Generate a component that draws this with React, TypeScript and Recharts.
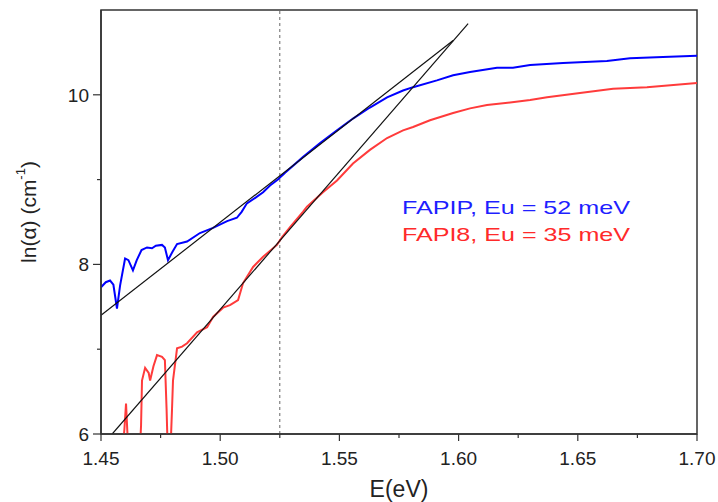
import React from 'react';
import { LineChart, Line, XAxis, YAxis, ReferenceLine, ReferenceArea, Label } from 'recharts';

// FAPIP absorption edge
const blueE = [1.4500, 1.4520, 1.4538, 1.4552, 1.4567, 1.4580, 1.4601, 1.4615, 1.4634, 1.4650, 1.4670, 1.4693, 1.4714, 1.4730, 1.4756, 1.4768, 1.4781, 1.4800, 1.4819, 1.4861, 1.4915, 1.4970, 1.5029, 1.5070, 1.5090, 1.5112, 1.5150, 1.5180, 1.5209, 1.5242, 1.5272, 1.5347, 1.5419, 1.5490, 1.5557, 1.5628, 1.5700, 1.5767, 1.5809, 1.5909, 1.5977, 1.6048, 1.6161, 1.6228, 1.6300, 1.6438, 1.6622, 1.6719, 1.6857, 1.7000];
const blueLn = [7.73, 7.79, 7.81, 7.76, 7.48, 7.75, 8.07, 8.05, 7.93, 8.05, 8.17, 8.20, 8.19, 8.22, 8.23, 8.20, 8.05, 8.15, 8.24, 8.27, 8.37, 8.43, 8.51, 8.55, 8.62, 8.72, 8.79, 8.85, 8.93, 9.00, 9.08, 9.265, 9.43, 9.58, 9.72, 9.85, 9.97, 10.05, 10.09, 10.17, 10.23, 10.27, 10.32, 10.32, 10.35, 10.375, 10.40, 10.43, 10.445, 10.46];

// FAPI8 absorption edge
const redE = [1.4590, 1.4598, 1.4605, 1.4611, 1.4620, 1.4660, 1.4668, 1.4672, 1.4685, 1.4700, 1.4706, 1.4720, 1.4735, 1.4756, 1.4768, 1.4775, 1.4781, 1.4790, 1.4798, 1.4802, 1.4819, 1.4840, 1.4861, 1.4903, 1.4945, 1.4970, 1.5012, 1.5041, 1.5075, 1.5096, 1.5138, 1.5180, 1.5238, 1.5259, 1.5293, 1.5347, 1.5364, 1.5431, 1.5490, 1.5557, 1.5628, 1.5700, 1.5767, 1.5809, 1.5880, 1.5977, 1.6048, 1.6119, 1.6216, 1.6300, 1.6371, 1.6509, 1.6648, 1.6790, 1.7000];
const redLn = [5.8, 6.05, 6.36, 6.0, 5.6, 5.6, 6.1, 6.63, 6.78, 6.72, 6.63, 6.80, 6.93, 6.91, 6.87, 6.3, 5.7, 5.7, 6.3, 6.63, 7.01, 7.03, 7.07, 7.20, 7.26, 7.38, 7.49, 7.52, 7.58, 7.78, 7.97, 8.09, 8.23, 8.32, 8.44, 8.62, 8.68, 8.85, 8.99, 9.19, 9.35, 9.49, 9.58, 9.62, 9.70, 9.785, 9.84, 9.88, 9.91, 9.94, 9.97, 10.02, 10.07, 10.09, 10.14];

// Urbach fits
const fitBlueE = [1.45, 1.5977];
const fitBlueLn = [7.40, 10.64];
const fitRedE = [1.4547, 1.6040];
const fitRedLn = [6.0, 10.84];

const xTicks = [1.45, 1.475, 1.5, 1.525, 1.55, 1.575, 1.6, 1.625, 1.65, 1.675, 1.7];
const xMajor = [1.45, 1.5, 1.55, 1.6, 1.65, 1.7];
const yTicks = [6, 7, 8, 9, 10];
const yMajor = [6, 8, 10];
const gapE = 1.525;

const toPoints = (xs: number[], ys: number[]) => xs.map((x, i) => ({ x, y: ys[i] }));

const blueData = toPoints(blueE, blueLn);
const redData = toPoints(redE, redLn);
const fitBlue = toPoints(fitBlueE, fitBlueLn);
const fitRed = toPoints(fitRedE, fitRedLn);

const FONT = 'Liberation Sans, Arial, sans-serif';
const AXIS = '#333';

const isMajor = (list: number[], v: number) => list.some((m) => Math.abs(m - v) < 1e-6);

const XTick = (props: any) => {
    const { x, y, payload } = props;
    const major = isMajor(xMajor, payload.value);
    return (
        <g>
            <line x1={x} x2={x} y1={y} y2={y + (major ? 7 : 4)} stroke={AXIS} strokeWidth={1.2} />
            {major && (
                <text x={x} y={y + 31} textAnchor="middle" fontSize={19} fill="#222" fontFamily={FONT}>
                    {payload.value.toFixed(2)}
                </text>
            )}
        </g>
    );
};

const YTick = (props: any) => {
    const { x, y, payload } = props;
    const major = isMajor(yMajor, payload.value);
    return (
        <g>
            <line x1={x - (major ? 8 : 4)} x2={x} y1={y} y2={y} stroke={AXIS} strokeWidth={1.2} />
            {major && (
                <text x={x - 12} y={y + 7} textAnchor="end" fontSize={19} fill="#222" fontFamily={FONT}>
                    {payload.value}
                </text>
            )}
        </g>
    );
};

const YTitle = (props: any) => {
    const { viewBox } = props;
    const cx = viewBox.x + 28;
    const cy = viewBox.y + viewBox.height / 2 - 10;
    return (
        <text x={cx} y={cy} transform={`rotate(-90, ${cx}, ${cy})`} textAnchor="middle" dominantBaseline="central"
            fontSize={21} fill="#222" fontFamily={FONT}>
            ln(α) (cm<tspan dy={-8} fontSize={13}>-1</tspan><tspan dy={8}>)</tspan>
        </text>
    );
};

const XTitle = (props: any) => {
    const { viewBox } = props;
    const cx = viewBox.x + viewBox.width / 2;
    return (
        <text x={cx} y={viewBox.y + 63} textAnchor="middle" fontSize={23} fill="#222" fontFamily={FONT}>
            E(eV)
        </text>
    );
};

const App = () => {
    return (
        <div style={{ width: 718, height: 502 }}>
            <style>{'body { margin: 0; }'}</style>
            <LineChart width={718} height={502} margin={{ top: 10, right: 21, left: 0, bottom: 0 }}>
                <XAxis type="number" dataKey="x" domain={[1.45, 1.7]} ticks={xTicks} interval={0}
                    allowDataOverflow tickSize={0} tickMargin={0} tickLine={false} height={68}
                    axisLine={{ stroke: AXIS, strokeWidth: 1.5 }} tick={(p: any) => <XTick {...p} />}>
                    <Label content={(p: any) => <XTitle {...p} />} />
                </XAxis>
                <YAxis type="number" dataKey="y" domain={[6, 11]} ticks={yTicks} interval={0}
                    allowDataOverflow tickSize={0} tickMargin={0} tickLine={false} width={101}
                    axisLine={{ stroke: AXIS, strokeWidth: 1.5 }} tick={(p: any) => <YTick {...p} />}>
                    <Label content={(p: any) => <YTitle {...p} />} />
                </YAxis>
                <ReferenceArea x1={1.45} x2={1.7} y1={6} y2={11} fill="none" stroke={AXIS} strokeWidth={1.5} />
                <ReferenceLine x={gapE} stroke="#666" strokeDasharray="3 3" strokeWidth={1} />
                <Line data={blueData} dataKey="y" type="linear" stroke="#0000ff" strokeWidth={2} dot={false} isAnimationActive={false} />
                <Line data={redData} dataKey="y" type="linear" stroke="#ff3b3b" strokeWidth={2} dot={false} isAnimationActive={false} />
                <Line data={fitBlue} dataKey="y" type="linear" stroke="#111" strokeWidth={1.2} dot={false} isAnimationActive={false} />
                <Line data={fitRed} dataKey="y" type="linear" stroke="#111" strokeWidth={1.2} dot={false} isAnimationActive={false} />
                <text x={402} y={214} fontSize={19} fill="#1f1fff" fontFamily={FONT} textLength={228} lengthAdjust="spacingAndGlyphs">
                    FAPIP, Eu = 52 meV
                </text>
                <text x={402} y={241} fontSize={19} fill="#ff2a2a" fontFamily={FONT} textLength={228} lengthAdjust="spacingAndGlyphs">
                    FAPI8, Eu = 35 meV
                </text>
            </LineChart>
        </div>
    );
};

export default App;
